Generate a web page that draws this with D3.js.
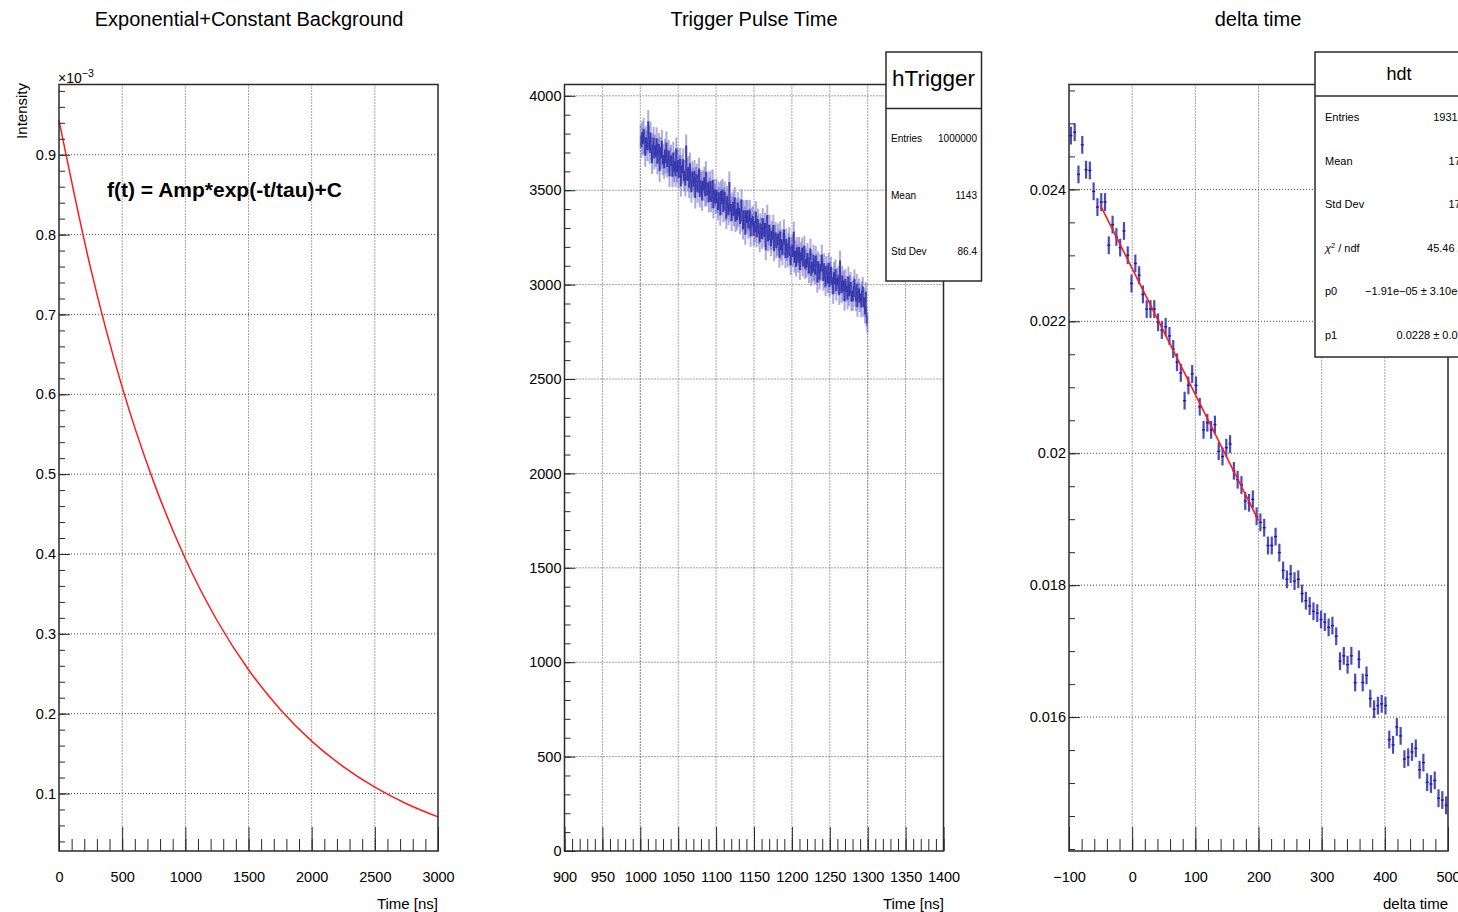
<!DOCTYPE html>
<html>
<head>
<meta charset="utf-8">
<script src="https://cdn.jsdelivr.net/npm/d3@7"></script>
<style>
  html, body { margin: 0; padding: 0; background: #fff; }
  svg { display: block; }
</style>
</head>
<body>
<svg id="canvas" width="1458" height="912"></svg>
<script>
// ---------------- data ----------------

// Left pad: Amp*exp(-t/tau)+C, sampled every 250 ns (values in units of 1e-3)
const expTimes  = [0, 250, 500, 750, 1000, 1250, 1500, 1750, 2000, 2250, 2500, 2750, 3000];
const expValues = [0.943, 0.758, 0.609, 0.490, 0.394, 0.317, 0.255, 0.2055, 0.1656, 0.1337, 0.1079, 0.0872, 0.0707];
const leftXTicks = [0, 500, 1000, 1500, 2000, 2500, 3000];
const leftYTicks = [0.1, 0.2, 0.3, 0.4, 0.5, 0.6, 0.7, 0.8, 0.9];

// Middle pad: hTrigger, 1 ns bins starting at 1000 ns
const trigFirstEdge = 1000;
const trigBinWidth = 1;
const trigCounts = [
  3785,3732,3803,3750,3822,3753,3685,3777,3754,3715,
  3862,3779,3701,3802,3719,3646,3738,3775,3671,3733,
  3685,3772,3644,3710,3742,3604,3721,3673,3759,3641,
  3683,3620,3712,3648,3750,3627,3654,3706,3577,3664,
  3681,3633,3575,3696,3603,3650,3577,3719,3600,3657,
  3569,3626,3663,3525,3627,3594,3661,3553,3600,3527,
  3734,3611,3553,3620,3517,3639,3551,3493,3594,3561,
  3523,3600,3462,3564,3581,3493,3545,3612,3468,3550,
  3537,3449,3546,3503,3565,3472,3594,3476,3492,3539,
  3441,3508,3545,3442,3464,3551,3408,3500,3476,3433,
  3500,3437,3399,3486,3458,3370,3492,3429,3501,3388,
  3456,3488,3395,3352,3464,3421,3373,3540,3392,3424,
  3341,3408,3435,3367,3459,3336,3398,3345,3432,3364,
  3402,3324,3386,3448,3340,3297,3389,3356,3268,3390,
  3328,3390,3302,3344,3391,3258,3350,3317,3359,3261,
  3334,3281,3383,3255,3307,3344,3271,3228,3320,3297,
  3246,3348,3295,3257,3324,3186,3303,3365,3232,3264,
  3313,3240,3207,3279,3241,3313,3180,3257,3274,3196,
  3210,3267,3234,3146,3278,3185,3237,3159,3221,3288,
  3211,3143,3240,3182,3149,3216,3248,3155,3107,3194,
  3208,3150,3277,3119,3176,3098,3195,3157,3119,3196,
  3081,3168,3130,3192,3099,3151,3203,3085,3132,3094,
  3164,3111,3063,3140,3187,3049,3116,3068,3155,3077,
  3057,3149,3106,3013,3120,3067,3029,3106,3073,3155,
  3081,3023,3110,3037,2994,3096,3058,3010,3112,2989,
  3064,3091,3003,3035,2952,3064,3006,3078,2970,3032,
  3003,3045,2947,3124,3016,2958,3045,2967,3019,2916,
  3027,2964,2991,2923,3040,2942,2994,3011,2913,2965,
  2916,2988,3025,2937,2914,3001,2883,2960,2977,2909,
  2950,2882,2964,2986,2883,2930,2847,2959,2831,2798
];
const midXTicks = [900, 950, 1000, 1050, 1100, 1150, 1200, 1250, 1300, 1350, 1400];
const midYTicks = [0, 500, 1000, 1500, 2000, 2500, 3000, 3500, 4000];
const trigStats = [["Entries", "1000000"], ["Mean", "1143"], ["Std Dev", "86.4"]];

// Right pad: hdt, 6-unit bins starting at -100
const dtFirstEdge = -100;
const dtBinWidth = 6;
const dtValues = [
  0.024816,0.024866,0.024227,0.024675,0.024298,0.024287,0.023970,0.023732,0.023808,0.023808,
  0.023153,0.023466,0.023279,0.023118,0.023370,0.023002,0.022574,0.022877,0.022700,0.022408,
  0.022186,0.022186,0.022186,0.021985,0.021868,0.021918,0.021778,0.021581,0.021380,0.021218,
  0.020797,0.021029,0.021202,0.021029,0.020705,0.020354,0.020462,0.020354,0.020435,0.020031,
  0.019950,0.020085,0.020139,0.019734,0.019599,0.019518,0.019276,0.019249,0.019302,0.019044,
  0.018952,0.018871,0.018601,0.018601,0.018736,0.018493,0.018223,0.018089,0.018170,0.018062,
  0.018089,0.017873,0.017765,0.017684,0.017603,0.017576,0.017479,0.017441,0.017360,0.017387,
  0.017225,0.016848,0.016929,0.016794,0.016929,0.016524,0.016875,0.016524,0.016632,0.016281,
  0.016120,0.016174,0.016201,0.016174,0.015660,0.015580,0.015850,0.015715,0.015364,0.015391,
  0.015472,0.015526,0.015202,0.015310,0.015013,0.014986,0.015040,0.014770,0.014743,0.014662
];
const dtBinError = 0.000135;
const fitP0 = -1.91e-05;   // slope
const fitP1 = 0.0228;      // intercept
const fitRange = [-50, 200];
const rightXTicks = [-100, 0, 100, 200, 300, 400, 500];
const rightYTicks = [0.016, 0.018, 0.02, 0.022, 0.024];
const dtStats = [
  ["Entries", "1931437"], ["Mean", "175.2"], ["Std Dev", "171.8"],
  ["chi2", "45.46 / 40"], ["p0", "\u22121.91e\u221205 \u00b1 3.10e\u221207"], ["p1", "0.0228 \u00b1 0.0001"]
];

// ---------------- layout ----------------
const FONT = "'Liberation Sans', Arial, Helvetica, sans-serif";
const TOP = 84.5, BOTTOM = 851;
const INK = "#2a2a2a";
const GRID = "#4a4a4a";

const svg = d3.select("#canvas").attr("font-family", FONT);
svg.append("rect").attr("width", 1458).attr("height", 912).attr("fill", "#fff");

function drawGrid(g, x, y, gx, gy) {
  const grid = g.append("g").attr("stroke", GRID).attr("stroke-width", 1)
    .attr("stroke-dasharray", "1,2").attr("fill", "none");
  grid.append("g").selectAll("line").data(gx).join("line")
    .attr("x1", d => x(d)).attr("x2", d => x(d)).attr("y1", TOP).attr("y2", BOTTOM);
  grid.append("g").selectAll("line").data(gy).join("line")
    .attr("y1", d => y(d)).attr("y2", d => y(d)).attr("x1", x.range()[0]).attr("x2", x.range()[1]);
}

function styleAxis(a) {
  a.select(".domain").remove();
  a.attr("font-size", 14.5).attr("font-family", FONT).attr("color", INK);
  a.selectAll("text").attr("fill", "#000");
  a.selectAll("line").attr("stroke-width", 1);
}

function drawFrameAxes(g, x, y, o) {
  const x0 = x.range()[0], x1 = x.range()[1];
  g.append("rect").attr("x", x0).attr("y", TOP).attr("width", x1 - x0).attr("height", BOTTOM - TOP)
    .attr("fill", "none").attr("stroke", INK).attr("stroke-width", 1.5);

  g.append("g").attr("transform", `translate(0,${BOTTOM})`)
    .call(d3.axisBottom(x).tickValues(o.xMinor).tickFormat("").tickSize(-12)).call(styleAxis);
  g.append("g").attr("transform", `translate(0,${BOTTOM})`)
    .call(d3.axisBottom(x).tickValues(o.xMajor).tickFormat(o.xFmt).tickSize(-24).tickPadding(21)).call(styleAxis);

  g.append("g").attr("transform", `translate(${x0},0)`)
    .call(d3.axisLeft(y).tickValues(o.yMinor).tickFormat("").tickSize(-6)).call(styleAxis);
  g.append("g").attr("transform", `translate(${x0},0)`)
    .call(d3.axisLeft(y).tickValues(o.yMajor).tickFormat(o.yFmt).tickSize(-11).tickPadding(3)).call(styleAxis);
}

function title(text, cx) {
  svg.append("text").attr("x", cx).attr("y", 26).attr("text-anchor", "middle")
    .attr("font-size", 20).attr("fill", "#000").text(text);
}
function xTitle(text, xr) {
  svg.append("text").attr("x", xr).attr("y", 909).attr("text-anchor", "end")
    .attr("font-size", 15).attr("fill", "#000").text(text);
}

// ---------------- left pad: function ----------------
{
  const g = svg.append("g");
  const x = d3.scaleLinear().domain([0, 3000]).range([59, 438]);
  const y = d3.scaleLinear().domain([0.028, 0.988]).range([BOTTOM, TOP]);
  drawGrid(g, x, y, leftXTicks.slice(1, -1), leftYTicks);

  const pts = expTimes.map((t, i) => ({ t, v: expValues[i] }));
  g.append("path").datum(pts)
    .attr("d", d3.line().x(d => x(d.t)).y(d => y(d.v)).curve(d3.curveMonotoneX))
    .attr("fill", "none").attr("stroke", "#ff1a1a").attr("stroke-width", 1.5);

  drawFrameAxes(g, x, y, {
    xMajor: leftXTicks, xMinor: d3.range(0, 3001, 100), xFmt: d3.format("d"),
    yMajor: leftYTicks, yMinor: d3.range(0.04, 0.985, 0.02), yFmt: d3.format(".1f")
  });

  // exponent label
  const ex = g.append("text").attr("x", 58).attr("y", 82.5).attr("font-size", 14).attr("fill", "#000");
  ex.append("tspan").text("\u00d710");
  ex.append("tspan").attr("font-size", 10.5).attr("dy", -6).text("\u22123");

  g.append("text").attr("transform", "translate(26.5,83) rotate(-90)").attr("text-anchor", "end")
    .attr("font-size", 15).attr("fill", "#000").text("Intensity");

  g.append("text").attr("x", 107).attr("y", 197).attr("font-size", 21).attr("font-weight", "bold")
    .attr("fill", "#000").text("f(t) = Amp*exp(-t/tau)+C");

  title("Exponential+Constant Background", 249);
  xTitle("Time [ns]", 438);
}

// ---------------- middle pad: trigger histogram ----------------
{
  const g = svg.append("g");
  const x = d3.scaleLinear().domain([900, 1400]).range([564.5, 943.5]);
  const y = d3.scaleLinear().domain([0, 4060]).range([BOTTOM, TOP]);
  drawGrid(g, x, y, midXTicks.slice(1, -1), midYTicks.slice(1));

  const bins = trigCounts.map((c, i) => ({ lo: trigFirstEdge + i * trigBinWidth, c }));
  const lastEdge = trigFirstEdge + trigCounts.length * trigBinWidth;

  // statistical error bars
  g.append("g").attr("stroke", "#5a5ac8").attr("stroke-opacity", 0.5).attr("stroke-width", 2)
    .selectAll("line").data(bins).join("line")
    .attr("x1", d => x(d.lo + trigBinWidth / 2)).attr("x2", d => x(d.lo + trigBinWidth / 2))
    .attr("y1", d => y(d.c - Math.sqrt(d.c))).attr("y2", d => y(d.c + Math.sqrt(d.c)));

  // histogram outline: bin tops, then the two faint edges down to zero
  const tops = bins.map(d => [d.lo, d.c]).concat([[lastEdge, trigCounts[trigCounts.length - 1]]]);
  g.append("path").datum(tops)
    .attr("d", d3.line().x(d => x(d[0])).y(d => y(d[1])).curve(d3.curveStepAfter))
    .attr("fill", "none").attr("stroke", "#2c2ca6").attr("stroke-opacity", 0.85).attr("stroke-width", 1.3);
  g.append("g").attr("stroke", "#6a6ad4").attr("stroke-opacity", 0.7).attr("stroke-width", 1)
    .attr("stroke-dasharray", "1.5,1.5")
    .selectAll("line").data([[trigFirstEdge, trigCounts[0]], [lastEdge, trigCounts[trigCounts.length - 1]]])
    .join("line")
    .attr("x1", d => x(d[0])).attr("x2", d => x(d[0])).attr("y1", y(0)).attr("y2", d => y(d[1]));

  drawFrameAxes(g, x, y, {
    xMajor: midXTicks, xMinor: d3.range(900, 1401, 10), xFmt: d3.format("d"),
    yMajor: midYTicks, yMinor: d3.range(0, 4060, 100), yFmt: d3.format("d")
  });

  // y title partly outside the visible pad
  svg.append("clipPath").attr("id", "midpad").append("rect")
    .attr("x", 516.5).attr("y", 0).attr("width", 460).attr("height", 912);
  g.append("text").attr("clip-path", "url(#midpad)")
    .attr("transform", "translate(522,85) rotate(-90)").attr("text-anchor", "end")
    .attr("font-size", 15).attr("fill", "#000").text("Counts");

  // statistics box
  const sb = g.append("g");
  sb.append("rect").attr("x", 886).attr("y", 52).attr("width", 95.5).attr("height", 229)
    .attr("fill", "#fff").attr("stroke", INK).attr("stroke-width", 1.5);
  sb.append("line").attr("x1", 886).attr("x2", 981.5).attr("y1", 108.5).attr("y2", 108.5)
    .attr("stroke", INK).attr("stroke-width", 1.5);
  sb.append("text").attr("x", 933.5).attr("y", 86).attr("text-anchor", "middle")
    .attr("font-size", 22.5).attr("fill", "#000").text("hTrigger");
  const rowY = d3.scalePoint().domain(trigStats.map(d => d[0])).range([141.8, 255.2]);
  trigStats.forEach(([k, v]) => {
    sb.append("text").attr("x", 891).attr("y", rowY(k)).attr("font-size", 10).attr("fill", "#000").text(k);
    sb.append("text").attr("x", 977).attr("y", rowY(k)).attr("text-anchor", "end")
      .attr("font-size", 10).attr("fill", "#000").text(v);
  });

  title("Trigger Pulse Time", 754);
  xTitle("Time [ns]", 944);
}

// ---------------- right pad: delta time with linear fit ----------------
{
  const g = svg.append("g");
  const x = d3.scaleLinear().domain([-100, 500]).range([1069, 1448]);
  const y = d3.scaleLinear().domain([0.01397, 0.02559]).range([BOTTOM, TOP]);
  drawGrid(g, x, y, rightXTicks.slice(1, -1), rightYTicks);

  const pts = dtValues.map((v, i) => ({ lo: dtFirstEdge + i * dtBinWidth, v }));
  const pg = g.append("g");
  pg.append("g").attr("stroke", "#4a4ac0").attr("stroke-width", 2.2)
    .selectAll("line").data(pts).join("line")
    .attr("x1", d => x(d.lo + dtBinWidth / 2)).attr("x2", d => x(d.lo + dtBinWidth / 2))
    .attr("y1", d => y(d.v - dtBinError)).attr("y2", d => y(d.v + dtBinError));
  pg.append("g").attr("stroke", "#1c1c92").attr("stroke-width", 1.4)
    .selectAll("line").data(pts).join("line")
    .attr("x1", d => x(d.lo + 0.1 * dtBinWidth)).attr("x2", d => x(d.lo + 0.9 * dtBinWidth))
    .attr("y1", d => y(d.v)).attr("y2", d => y(d.v));

  // fit: p0*x + p1
  const fitPts = fitRange.map(t => ({ t, v: fitP0 * t + fitP1 }));
  g.append("path").datum(fitPts)
    .attr("d", d3.line().x(d => x(d.t)).y(d => y(d.v)))
    .attr("fill", "none").attr("stroke", "#ff1a1a").attr("stroke-width", 1.6);

  drawFrameAxes(g, x, y, {
    xMajor: rightXTicks, xMinor: d3.range(-100, 501, 20), xFmt: d3.format("d"),
    yMajor: rightYTicks, yMinor: d3.range(0.014, 0.02556, 0.0005), yFmt: d3.format("~g")
  });

  // statistics box (runs past the right edge)
  const sb = g.append("g");
  sb.append("rect").attr("x", 1315).attr("y", 52).attr("width", 168).attr("height", 305)
    .attr("fill", "#fff").attr("stroke", INK).attr("stroke-width", 1.5);
  sb.append("line").attr("x1", 1315).attr("x2", 1483).attr("y1", 96).attr("y2", 96)
    .attr("stroke", INK).attr("stroke-width", 1.5);
  sb.append("text").attr("x", 1399).attr("y", 80).attr("text-anchor", "middle")
    .attr("font-size", 18).attr("fill", "#000").text("hdt");
  const rowY = d3.scalePoint().domain(dtStats.map(d => d[0])).range([121.2, 339]);
  dtStats.forEach(([k, v]) => {
    const t = sb.append("text").attr("x", 1325).attr("y", rowY(k)).attr("font-size", 11).attr("fill", "#000");
    if (k === "chi2") {
      t.append("tspan").attr("font-style", "italic").text("\u03c7");
      t.append("tspan").attr("font-size", 7.5).attr("dy", -4).text("2");
      t.append("tspan").attr("dy", 4).text(" / ndf");
    } else {
      t.text(k);
    }
    sb.append("text").attr("x", 1476).attr("y", rowY(k)).attr("text-anchor", "end")
      .attr("font-size", 11).attr("fill", "#000").text(v);
  });

  title("delta time", 1258);
  xTitle("delta time", 1448);
}
</script>
</body>
</html>
